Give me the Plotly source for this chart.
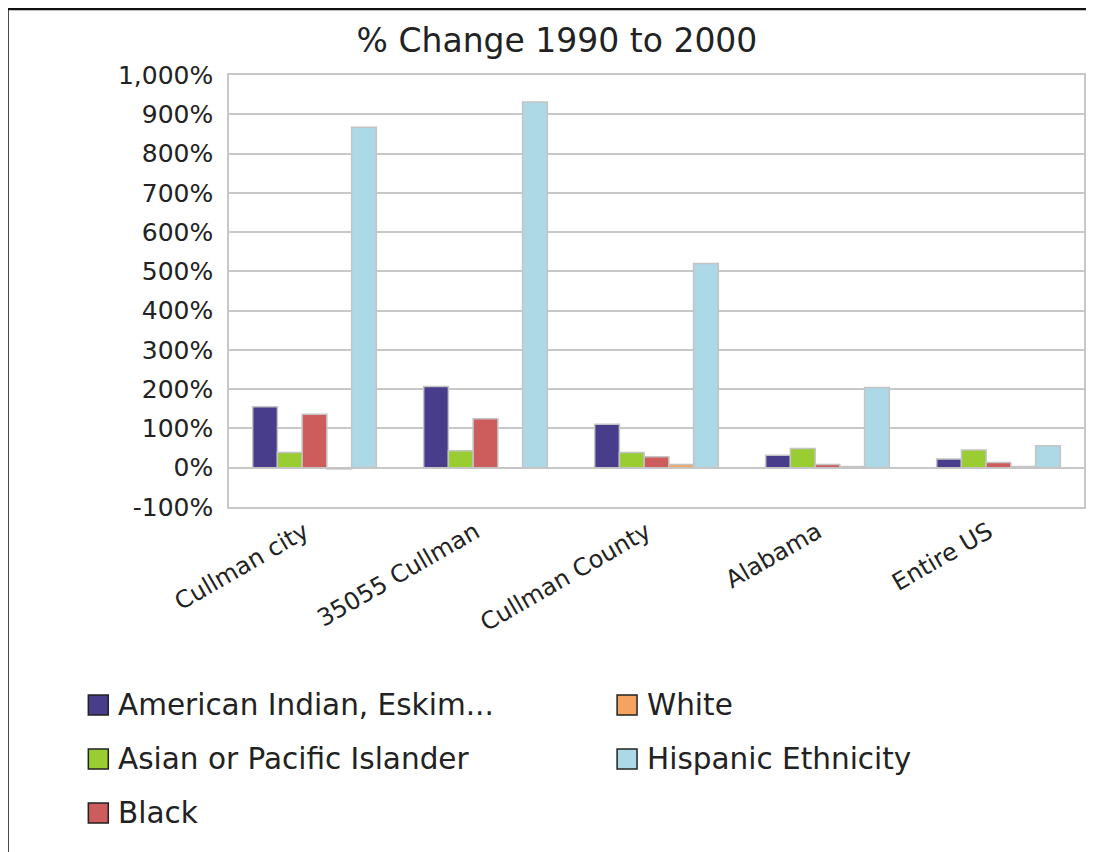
import plotly.graph_objects as go

categories = ["Cullman city", "35055 Cullman", "Cullman County", "Alabama", "Entire US"]
series_names = ["American Indian, Eskim...", "Asian or Pacific Islander", "Black", "White", "Hispanic Ethnicity"]
american_indian = [155, 207, 111, 32, 22]
asian_pacific = [39, 43, 39, 49, 45]
black = [136, 125, 28, 8, 13]
white = [-3, 0, 8, 3, 3]
hispanic = [867, 931, 520, 204, 56]
series_values = [american_indian, asian_pacific, black, white, hispanic]
colors = ["#483D8B", "#9ACD32", "#CD5C5C", "#F4A460", "#ADD8E6"]
y_tick_vals = list(range(-100, 1001, 100))
y_tick_text = ["-100%", "0%", "100%", "200%", "300%", "400%", "500%", "600%", "700%", "800%", "900%", "1,000%"]

FONT = "DejaVu Sans"
OFF = 8  # page body margin
W, H = 1094 - OFF, 852 - OFF
L, R, T, B = 229 - OFF, 1086 - OFF, 75 - OFF, 507 - OFF

def px(X):
    return (X - OFF - L) / (R - L)

def py(Y):
    return (B - (Y - OFF)) / (B - T)

fig = go.Figure()
for name, vals, col in zip(series_names, series_values, colors):
    fig.add_trace(go.Bar(x=categories, y=vals, name=name,
                         marker=dict(color=col, line=dict(color="#c4c4c4", width=1.5)),
                         showlegend=False))

shapes = []
annotations = []
# legend drawn manually (column-major: 3 rows in column 1, 2 in column 2)
legend_pos = [(88, 705), (88, 759), (88, 813), (618, 705), (618, 759)]
for (lx, ly), name, col in zip(legend_pos, series_names, colors):
    shapes.append(dict(type="rect", xref="paper", yref="paper",
                       x0=px(lx), x1=px(lx + 20), y0=py(ly + 10), y1=py(ly - 10),
                       fillcolor=col, line=dict(color="#222222", width=1.5)))
    annotations.append(dict(text=name, xref="paper", yref="paper", x=px(lx + 28), y=py(ly),
                            xanchor="left", yanchor="middle", showarrow=False,
                            font=dict(family=FONT, size=29.5, color="#222222")))
# page border
shapes.append(dict(type="rect", xref="paper", yref="paper", x0=px(7), x1=px(1120), y0=py(880), y1=py(9),
                   line=dict(color="#111111", width=2.5), fillcolor="rgba(0,0,0,0)", layer="above"))

fig.update_layout(
    width=W, height=H,
    margin=dict(l=L, r=W - R, t=T, b=H - B, pad=0),
    paper_bgcolor="white", plot_bgcolor="white",
    barmode="group", bargap=0.277, bargroupgap=0,
    title=dict(text="% Change 1990 to 2000", x=(557 - OFF) / W, xanchor="center",
               y=1 - (40 - OFF) / H, yanchor="middle",
               font=dict(family=FONT, size=33, color="#222222")),
    font=dict(family=FONT, color="#222222"),
    xaxis=dict(showgrid=False, tickangle=-30, tickfont=dict(size=24, family=FONT, color="#222222"),
               ticklabelshift=-10,
               showline=True, linecolor="#c8c8c8", linewidth=1.5, mirror=True, ticks=""),
    yaxis=dict(range=[-100, 1000], tickvals=y_tick_vals, ticktext=y_tick_text,
               tickfont=dict(size=25, family=FONT, color="#222222"), ticklabelstandoff=9,
               showgrid=True, gridcolor="#c8c8c8", gridwidth=1.5, zeroline=True, zerolinecolor="#c8c8c8",
               zerolinewidth=1.5, showline=True, linecolor="#c8c8c8", linewidth=1.5, mirror=True, ticks=""),
    shapes=shapes, annotations=annotations,
)
fig.write_html("out.html")
